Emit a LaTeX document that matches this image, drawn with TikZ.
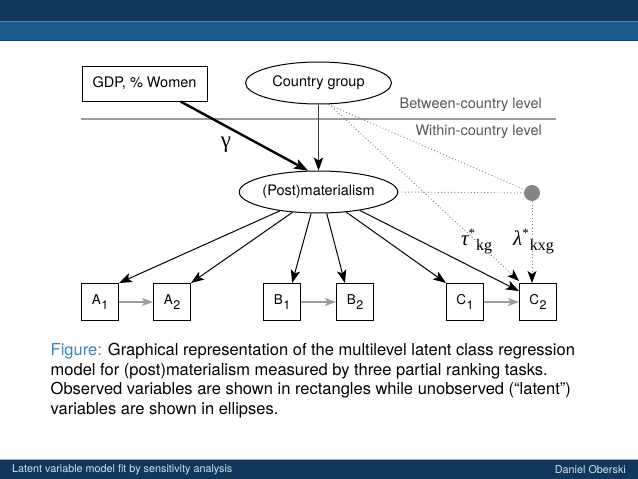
\documentclass[tikz,border=0pt]{standalone}
\usepackage{fontspec}
\setmainfont{TeX Gyre Heros}
\newfontfamily\serifgr{Liberation Serif}
\usetikzlibrary{arrows.meta,shapes.geometric,calc}
\definecolor{hdark}{HTML}{11385C}
\definecolor{hlight}{HTML}{1C5A8E}
\definecolor{hline}{HTML}{5A86B2}
\definecolor{figblue}{HTML}{3A86C0}
\definecolor{lvlgray}{HTML}{555555}
\definecolor{sepgray}{HTML}{9A9A9A}
\definecolor{arrgray}{HTML}{9C9C9C}
\definecolor{dotgray}{HTML}{7A7A7A}
\definecolor{ballgray}{HTML}{858585}
\definecolor{foottext}{HTML}{D8E0E8}
\newcommand{\lowsub}[1]{\hspace{0.5pt}\raisebox{-4.5pt}{\fontsize{12.5}{13}\selectfont #1}}
\begin{document}
\begin{tikzpicture}[x=1pt,y=-1pt,
  dfont/.style={font=\fontsize{14.5}{16}\selectfont},
  obsbox/.style={draw, line width=1pt, minimum width=37pt, minimum height=37pt, inner sep=0pt, font=\fontsize{13.5}{15}\selectfont},
  latell/.style={draw, ellipse, line width=1pt, minimum width=146pt, minimum height=42pt, inner sep=0pt, dfont},
  arr/.style={-{Stealth[length=13pt,width=9.5pt,inset=3pt]}, line width=1pt, black},
  thickarr/.style={-{Stealth[length=14pt,width=10pt,inset=3pt]}, line width=2.4pt, black},
  cgarr/.style={-{Stealth[length=13pt,width=9.5pt,inset=3pt,color=black]}, line width=1.4pt, draw=black!75},
  garr/.style={-{Stealth[length=11pt,width=8pt,inset=2.5pt]}, line width=1.2pt, arrgray},
  dotline/.style={draw=dotgray, line width=0.9pt, dash pattern=on 0.9pt off 2.4pt},
  dotarr/.style={dotline, -{Stealth[length=12pt,width=9pt,inset=3pt,color=black]}},
  lvl/.style={text=lvlgray, font=\fontsize{14.5}{16}\selectfont, inner sep=0pt},
  footfont/.style={text=foottext, font=\fontsize{10.8}{12}\selectfont, inner sep=0pt}
]
\useasboundingbox (0,0) rectangle (638,479);
% header
\fill[hdark] (0,0) rectangle (638,21);
\fill[hlight] (0,21) rectangle (638,40);
\draw[hline, line width=0.8pt] (0,21) -- (638,21);
\draw[hdark!70!hlight, line width=0.8pt] (0,40) -- (638,40);
% footer
\fill[hdark] (0,459) rectangle (638,479);
\draw[hline!60!white, line width=0.6pt] (0,459) -- (638,459);
\node[footfont, anchor=west] (ftl) at (12,469.5) {Latent variable model fit by sensitivity analysis};
\node[footfont, anchor=east] (ftr) at (626,469.5) {Daniel Oberski};

% level separator
\coordinate (sepL) at (81,119);
\coordinate (sepR) at (556,119);
\draw[sepgray, line width=1.3pt] (sepL) -- (sepR);
\node[lvl, anchor=east] (btw) at (542,105) {Between-country level};
\node[lvl, anchor=east] (wth) at (542,132) {Within-country level};

% nodes
\node[draw, line width=1pt, minimum width=125pt, minimum height=35pt, inner sep=0pt, dfont] (gdp) at (144.5,83.5) {GDP, \% Women};
\node[latell] (cg) at (318.5,83) {Country group};
\node[latell] (post) at (318.5,192) {(Post)materialism};
\node[circle, fill=ballgray, minimum size=16pt, inner sep=0pt] (ball) at (532,193) {};
\node[obsbox] (A1) at (100,302) {A\lowsub{1}};
\node[obsbox] (A2) at (172,302) {A\lowsub{2}};
\node[obsbox] (B1) at (282,302) {B\lowsub{1}};
\node[obsbox] (B2) at (355,302) {B\lowsub{2}};
\node[obsbox] (C1) at (465,302) {C\lowsub{1}};
\node[obsbox] (C2) at (538,302) {C\lowsub{2}};

% labels
\node[inner sep=0pt] (gam) at (226,145) {\serifgr\fontsize{23}{23}\selectfont γ};
\node[inner sep=0pt, anchor=base west] (tau) at (461,245) {\serifgr\fontsize{21}{21}\selectfont\itshape τ\raisebox{8pt}{\fontsize{13}{13}\selectfont\upshape *}\hspace{1pt}\raisebox{-5pt}{\fontsize{16}{16}\selectfont\upshape kg}};
\node[inner sep=0pt, anchor=base west] (lam) at (513,245) {\serifgr\fontsize{21}{21}\selectfont\itshape λ\raisebox{8pt}{\fontsize{13}{13}\selectfont\upshape *}\hspace{1pt}\raisebox{-5pt}{\fontsize{16}{16}\selectfont\upshape kxg}};

% connectors
\draw[dotline] (cg.294) -- (ball);
\draw[dotarr] (cg.297) -- ([yshift=2pt]C2.north west);
\draw[dotline] (post.east) -- (ball);
\draw[dotarr] (ball) -- (ball |- C2.north);

\draw[thickarr] ([xshift=-27pt]gdp.south east) -- (post.116);
\draw[cgarr] (cg.south) -- (post.north);
\draw[arr] (post.206) -- (A1.north east);
\draw[arr] (post.218) -- (A2.north east);
\draw[arr] (post.251) -- (B1.62);
\draw[arr] (post.291) -- (B2.118);
\draw[arr] (post.324) -- (C1.north west);
\draw[arr] (post.336) -- (C2.150);
\draw[garr] (A1.east) -- (A2.west);
\draw[garr] (B1.east) -- (B2.west);
\draw[garr] (C1.east) -- (C2.west);

% caption
\node[anchor=north west, align=left, inner sep=0pt, font=\fontsize{16.5}{19.5}\selectfont] (cap) at (50.5,343)
 {\textcolor{figblue}{Figure:} Graphical representation of the multilevel latent class regression\\
  model for (post)materialism measured by three partial ranking tasks.\\
  Observed variables are shown in rectangles while unobserved (“latent”)\\
  variables are shown in ellipses.};
\end{tikzpicture}
\end{document}
